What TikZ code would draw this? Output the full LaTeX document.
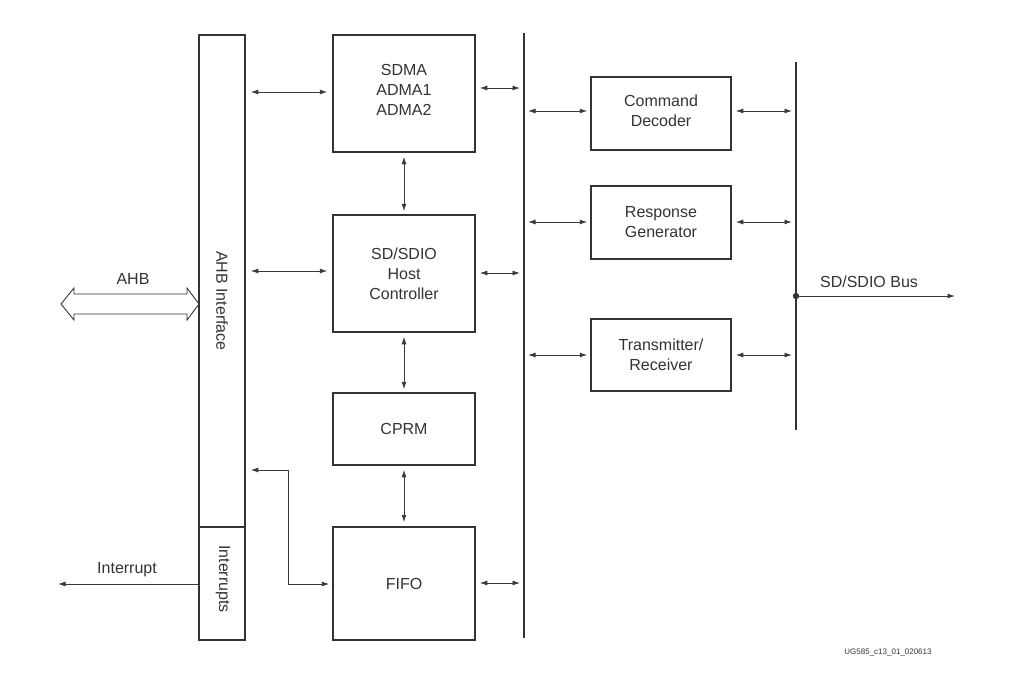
\documentclass[tikz,border=0pt]{standalone}
\usepackage{fontspec}
\setmainfont{Liberation Sans}
\usetikzlibrary{arrows.meta}
\definecolor{ink}{HTML}{333333}
\definecolor{wire}{HTML}{3A3A3A}
\begin{document}
\begin{tikzpicture}[x=1pt,y=-1pt,
  box/.style={draw=ink,line width=1.5pt,inner sep=0pt,align=center,text=ink,
    font=\fontsize{16}{20}\selectfont},
  conn/.style={{Latex[length=7.5pt,width=5pt]}-{Latex[length=7.5pt,width=5pt]},draw=wire,line width=0.9pt},
  oneway/.style={-{Latex[length=7.5pt,width=5pt]},draw=wire,line width=0.9pt},
  busline/.style={draw=ink,line width=2.5pt},
  lbl/.style={text=ink,font=\fontsize{16}{20}\selectfont,inner sep=0pt,align=center}]
\useasboundingbox (0,0) rectangle (1009,672);
% left interface column
\node[box,minimum width=46pt,minimum height=492pt] (ahb) at (222,281) {};
\node[lbl,rotate=-90] (ahbtxt) at (222,301) {AHB Interface};
\node[box,minimum width=46pt,minimum height=113pt] (intr) at (222,583.5) {};
\node[lbl,rotate=-90] (intrtxt) at (223,579) {Interrupts};
% centre blocks
\node[box,minimum width=142pt,minimum height=117pt] (sdma) at (404,93.5) {};
\node[lbl] (sdmatxt) at (404,89.5) {SDMA\\ADMA1\\ADMA2};
\node[box,minimum width=142pt,minimum height=117pt] (host) at (404,273.5) {SD/SDIO\\Host\\Controller};
\node[box,minimum width=142pt,minimum height=72pt] (cprm) at (404,429) {CPRM};
\node[box,minimum width=142pt,minimum height=113pt] (fifo) at (404,583.5) {FIFO};
% right blocks
\node[box,minimum width=140pt,minimum height=73pt] (cmd) at (661,113.5) {};
\node[lbl] (cmdtxt) at (661,110.5) {Command\\Decoder};
\node[box,minimum width=140pt,minimum height=73pt] (resp) at (661,222.5) {Response\\Generator};
\node[box,minimum width=140pt,minimum height=72pt] (trx) at (661,355) {Transmitter/\\Receiver};
% buses
\coordinate (b1t) at (524,33);
\coordinate (b1b) at (524,638);
\coordinate (b2t) at (796,62);
\coordinate (b2b) at (796,430);
\draw[busline] (b1t) -- (b1b);
\draw[busline] (b2t) -- (b2b);
\coordinate (dot) at (796,296);
\coordinate (busout) at (955,296);
\fill[ink] (dot) circle (3.2pt);
\draw[oneway] (dot) -- (busout);
\node[lbl] (buslbl) at (869,282) {SD/SDIO Bus};
% AHB hollow double arrow
\draw[draw=ink,line width=0.9pt,fill=white] (61,304) -- (74,288) -- (74,294) -- (187,294) -- (187,288)
  -- (199,304) -- (187,320) -- (187,314) -- (74,314) -- (74,320) -- cycle;
\node[lbl] (ahblbl) at (133,279) {AHB};
% interrupt out
\coordinate (intout) at (58,584);
\draw[oneway] (intr.west |- 0,584) -- (intout);
\node[lbl] (intlbl) at (127,570) {Interrupt};
% connections
\draw[conn] ([xshift=5pt]ahb.east |- 0,92) -- ([xshift=-5pt]sdma.west |- 0,92);
\draw[conn] ([xshift=4pt]sdma.east |- 0,88) -- ([xshift=-4pt]b1t |- 0,88);
\draw[conn] ([yshift=-4pt]sdma.south) -- ([yshift=3pt]host.north);
\draw[conn] ([xshift=5pt]ahb.east |- 0,271) -- ([xshift=-5pt]host.west |- 0,271);
\draw[conn] ([xshift=4pt]host.east |- 0,273) -- ([xshift=-4pt]b1t |- 0,273);
\draw[conn] ([yshift=-4pt]host.south) -- ([yshift=3pt]cprm.north);
\draw[conn] ([yshift=-4pt]cprm.south) -- ([yshift=4pt]fifo.north);
\draw[conn] ([xshift=4pt]fifo.east |- 0,583) -- ([xshift=-4pt]b1t |- 0,583);
\draw[conn] ([xshift=5pt]ahb.east |- 0,470) -- (288,470) -- (288,584) -- ([xshift=-3pt]fifo.west |- 0,584);
\foreach \n/\yy in {cmd/111,resp/222,trx/355}{
  \draw[conn] ([xshift=4pt]b1t |- 0,\yy) -- ([xshift=-3pt]\n.west |- 0,\yy);
  \draw[conn] ([xshift=4pt]\n.east |- 0,\yy) -- ([xshift=-4pt]b2t |- 0,\yy);
}
% figure id
\node[text=ink,font=\fontsize{8}{9}\selectfont,inner sep=0pt] (figid) at (888,652) {UG585\_c13\_01\_020613};
\end{tikzpicture}
\end{document}
